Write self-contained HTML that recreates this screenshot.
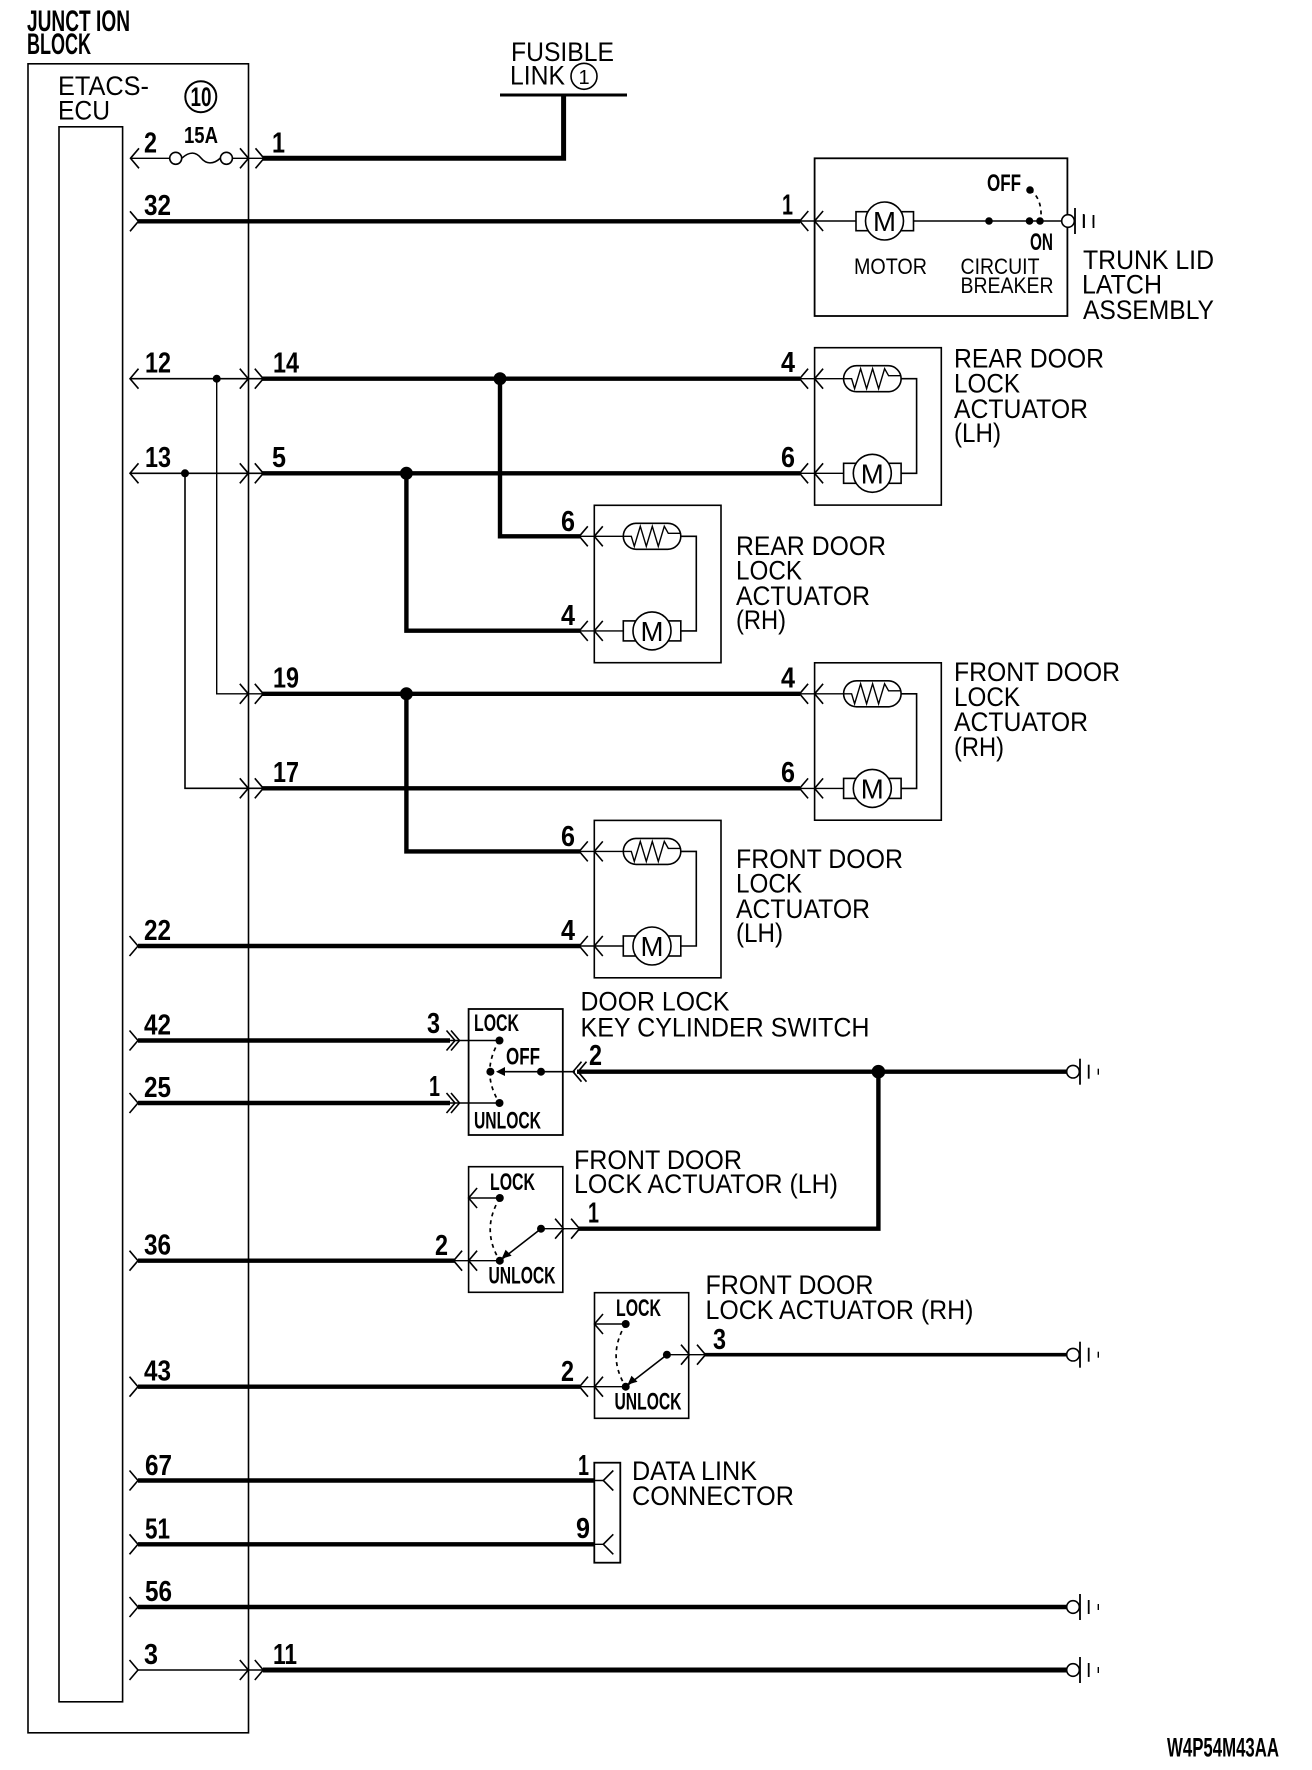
<!DOCTYPE html>
<html><head><meta charset="utf-8"><title>ETACS-ECU door lock wiring</title>
<style>
html,body{margin:0;padding:0;background:#fff}
svg{display:block}
text{font-family:"Liberation Sans",sans-serif;fill:#000;stroke:none}
.r{font-size:27px}
.m{font-size:22px}
.b{font-size:29px;font-weight:bold}
.s{font-size:24.5px;font-weight:bold}
.t{font-size:23px;font-weight:bold}
.k{fill:none;stroke:#000;stroke-width:4.4}
.n{fill:none;stroke:#000;stroke-width:1.4}
.c{fill:none;stroke:#000;stroke-width:1.6}
.d{fill:#000;stroke:none}
.w{fill:#fff;stroke:#000;stroke-width:1.6}
.x{fill:none;stroke:#000;stroke-width:1.7;stroke-dasharray:4 4}
</style></head><body>
<svg xmlns="http://www.w3.org/2000/svg" width="1312" height="1770" viewBox="0 0 1312 1770">
<defs>
<path id="cl" class="c" d="M8.5-10L0 0L8.5 10"/>
<path id="cr" class="c" d="M-8.5-10L0 0L-8.5 10"/>
<g id="act">
<rect class="c" x="0" y="-31" width="126.7" height="157.4"/>
<use href="#cl" x="-15" y="0"/><use href="#cl" x="0" y="0"/>
<use href="#cl" x="-15" y="94.6"/><use href="#cl" x="0" y="94.6"/>
<path class="n" d="M-15 0H29M-15 94.6H29"/>
<path class="c" d="M86 0H102V94.6H86"/>
<rect class="c" x="29" y="-13" width="57.5" height="26" rx="13"/>
<path class="n" d="M29 0H37L40 10L46-10L52 10L58-10L64 10L70-10L74-3H86"/>
<rect class="c" x="29" y="84.6" width="57.5" height="20"/>
<circle class="w" cx="57.7" cy="94.6" r="19"/>
</g>
<g id="gnd">
<circle class="w" cx="6" cy="0" r="6.3"/>
<path class="c" d="M13-13V13" style="stroke-width:1.8"/>
<path class="c" d="M21.7-7V7" style="stroke-width:1.8"/>
<path class="n" d="M31.3-3V3"/>
</g>
<g id="sw">
<rect class="c" x="0" y="-94" width="94.2" height="125.6"/>
<use href="#cl" x="0" y="-62.7"/>
<use href="#cl" x="0" y="0"/><use href="#cl" x="-15" y="0"/>
<use href="#cr" x="95" y="-32"/><use href="#cr" x="111" y="-32"/>
<path class="n" d="M0-62.7H31.2M-15 0H31.2M72.4-32H111"/>
<path class="x" d="M31.2-62.7Q12-31 31.2 0"/>
<path class="c" d="M72.4-32L31.2 0"/>
<path class="d" d="M33-2L37-11L43-5Z"/>
<circle class="d" cx="31.2" cy="-62.7" r="4"/>
<circle class="d" cx="31.2" cy="0" r="4"/>
<circle class="d" cx="72.4" cy="-32" r="4"/>
</g>
</defs>

<!-- ECU -->
<rect class="c" x="28" y="63.8" width="220.5" height="1669"/>
<rect class="c" x="59" y="126.8" width="63.6" height="1575"/>
<text class="b" x="27" y="31" style="font-size:30px" textLength="103" lengthAdjust="spacingAndGlyphs">JUNCT ION</text>
<text class="b" x="27" y="54" style="font-size:30px" textLength="64" lengthAdjust="spacingAndGlyphs">BLOCK</text>
<text class="r" x="58" y="95" textLength="91" lengthAdjust="spacingAndGlyphs">ETACS-</text>
<text class="r" x="58" y="119.5" textLength="52" lengthAdjust="spacingAndGlyphs">ECU</text>
<circle class="c" cx="200.8" cy="96.7" r="15.5" style="stroke-width:2"/>
<text class="b" x="190.5" y="106" style="font-size:27px" textLength="21" lengthAdjust="spacingAndGlyphs">10</text>
<text class="t" x="184" y="143" textLength="34" lengthAdjust="spacingAndGlyphs">15A</text>

<!-- Fusible link -->
<text class="r" x="511" y="61" textLength="103" lengthAdjust="spacingAndGlyphs">FUSIBLE</text>
<text class="r" x="510" y="84.5" textLength="55" lengthAdjust="spacingAndGlyphs">LINK</text>
<circle class="c" cx="584" cy="76.3" r="13"/>
<text x="584" y="84" text-anchor="middle" style="font-size:20px">1</text>
<path class="c" d="M500 95H627" style="stroke-width:3"/>
<path class="k" d="M263 158.3H563.6V95" style="stroke-width:5"/>

<!-- Row 2 / fuse -->
<use href="#cl" x="130.5" y="158.3"/><use href="#cr" x="248.5" y="158.3"/><use href="#cr" x="264" y="158.3"/>
<path class="n" d="M130.5 158.3H169.5M232.5 158.3H264"/>
<circle class="w" cx="175.7" cy="158.3" r="6"/><circle class="w" cx="226.4" cy="158.3" r="6"/>
<path class="c" d="M182 158C190 151 196 152 201 158C206 164 213 165 220.5 158"/>
<text class="b" x="144" y="152.7" textLength="13" lengthAdjust="spacingAndGlyphs">2</text>
<text class="b" x="272" y="152.7" textLength="13" lengthAdjust="spacingAndGlyphs">1</text>

<!-- Row 32 -->
<use href="#cr" x="138.5" y="221.3"/>
<path class="k" d="M138 221.3H800"/>
<text class="b" x="144" y="215" textLength="27" lengthAdjust="spacingAndGlyphs">32</text>
<text class="b" x="782" y="214.5" textLength="11" lengthAdjust="spacingAndGlyphs">1</text>

<!-- Trunk lid latch -->
<rect class="c" x="814.6" y="158.3" width="252.8" height="157.7" style="stroke-width:1.8"/>
<use href="#cl" x="799.8" y="221"/><use href="#cl" x="814.6" y="221"/>
<path class="n" d="M799.8 221H856M913 221H1062"/>
<rect class="c" x="856" y="211.7" width="57.5" height="19"/>
<circle class="w" cx="884.5" cy="221" r="19"/>
<text x="884.5" y="231" text-anchor="middle" style="font-size:28px" textLength="23" lengthAdjust="spacingAndGlyphs">M</text>
<circle class="d" cx="989" cy="221" r="3.8"/><circle class="d" cx="1029.5" cy="221" r="3.8"/><circle class="d" cx="1040" cy="221" r="3.8"/><circle class="d" cx="1030" cy="190" r="3.8"/>
<path class="x" d="M1030 190Q1042 198 1041 218"/>
<use href="#gnd" x="1062" y="221"/>
<path class="c" d="M1084 215V228M1093.5 215V228" style="stroke-width:1.8"/>
<text class="s" x="987" y="191" textLength="34" lengthAdjust="spacingAndGlyphs">OFF</text>
<text class="s" x="1030" y="250" textLength="23" lengthAdjust="spacingAndGlyphs">ON</text>
<text class="m" x="854" y="274" textLength="73" lengthAdjust="spacingAndGlyphs">MOTOR</text>
<text class="m" x="960.5" y="274" textLength="79" lengthAdjust="spacingAndGlyphs">CIRCUIT</text>
<text class="m" x="960.5" y="293" textLength="93" lengthAdjust="spacingAndGlyphs">BREAKER</text>
<text class="r" x="1083" y="269" textLength="131" lengthAdjust="spacingAndGlyphs">TRUNK LID</text>
<text class="r" x="1082" y="293.3" textLength="80" lengthAdjust="spacingAndGlyphs">LATCH</text>
<text class="r" x="1083" y="319" textLength="131" lengthAdjust="spacingAndGlyphs">ASSEMBLY</text>

<!-- Actuators -->
<use href="#act" x="814.6" y="378.7"/>
<use href="#act" x="594.3" y="536.3"/>
<use href="#act" x="814.6" y="693.8"/>
<use href="#act" x="594.3" y="851.4"/>
<text x="872.3" y="483.5" text-anchor="middle" style="font-size:28px" textLength="23" lengthAdjust="spacingAndGlyphs">M</text>
<text x="652" y="641" text-anchor="middle" style="font-size:28px" textLength="23" lengthAdjust="spacingAndGlyphs">M</text>
<text x="872.3" y="798.5" text-anchor="middle" style="font-size:28px" textLength="23" lengthAdjust="spacingAndGlyphs">M</text>
<text x="652" y="956" text-anchor="middle" style="font-size:28px" textLength="23" lengthAdjust="spacingAndGlyphs">M</text>

<text class="b" x="781" y="372" textLength="14" lengthAdjust="spacingAndGlyphs">4</text>
<text class="b" x="781" y="467" textLength="14" lengthAdjust="spacingAndGlyphs">6</text>
<text class="b" x="561" y="531" textLength="14" lengthAdjust="spacingAndGlyphs">6</text>
<text class="b" x="561" y="625" textLength="14" lengthAdjust="spacingAndGlyphs">4</text>
<text class="b" x="781" y="687.5" textLength="14" lengthAdjust="spacingAndGlyphs">4</text>
<text class="b" x="781" y="782" textLength="14" lengthAdjust="spacingAndGlyphs">6</text>
<text class="b" x="561" y="846" textLength="14" lengthAdjust="spacingAndGlyphs">6</text>
<text class="b" x="561" y="940" textLength="14" lengthAdjust="spacingAndGlyphs">4</text>

<text class="r" x="954" y="367.7" textLength="150" lengthAdjust="spacingAndGlyphs">REAR DOOR</text>
<text class="r" x="954" y="392.3" textLength="66" lengthAdjust="spacingAndGlyphs">LOCK</text>
<text class="r" x="954" y="418" textLength="134" lengthAdjust="spacingAndGlyphs">ACTUATOR</text>
<text class="r" x="954" y="442" textLength="47" lengthAdjust="spacingAndGlyphs">(LH)</text>

<text class="r" x="736" y="555" textLength="150" lengthAdjust="spacingAndGlyphs">REAR DOOR</text>
<text class="r" x="736" y="579.5" textLength="66" lengthAdjust="spacingAndGlyphs">LOCK</text>
<text class="r" x="736" y="605" textLength="134" lengthAdjust="spacingAndGlyphs">ACTUATOR</text>
<text class="r" x="736" y="629" textLength="50" lengthAdjust="spacingAndGlyphs">(RH)</text>

<text class="r" x="954" y="681" textLength="166" lengthAdjust="spacingAndGlyphs">FRONT DOOR</text>
<text class="r" x="954" y="706" textLength="66" lengthAdjust="spacingAndGlyphs">LOCK</text>
<text class="r" x="954" y="731" textLength="134" lengthAdjust="spacingAndGlyphs">ACTUATOR</text>
<text class="r" x="954" y="756" textLength="50" lengthAdjust="spacingAndGlyphs">(RH)</text>

<text class="r" x="736" y="868" textLength="167" lengthAdjust="spacingAndGlyphs">FRONT DOOR</text>
<text class="r" x="736" y="892.5" textLength="66" lengthAdjust="spacingAndGlyphs">LOCK</text>
<text class="r" x="736" y="918" textLength="134" lengthAdjust="spacingAndGlyphs">ACTUATOR</text>
<text class="r" x="736" y="942" textLength="47" lengthAdjust="spacingAndGlyphs">(LH)</text>

<!-- Rows 12/13 -->
<use href="#cl" x="130" y="378.7"/><use href="#cr" x="248.3" y="378.7"/><use href="#cr" x="263.3" y="378.7"/>
<use href="#cl" x="130" y="473.3"/><use href="#cr" x="248.3" y="473.3"/><use href="#cr" x="263.3" y="473.3"/>
<path class="c" d="M130 378.7H263M130 473.3H263"/>
<circle class="d" cx="216.7" cy="378.7" r="4"/><circle class="d" cx="185" cy="473.3" r="4"/>
<path class="n" d="M216.7 378.7V693.8H263"/>
<path class="c" d="M185 473.3V788.3H263"/>
<use href="#cr" x="248.3" y="693.8"/><use href="#cr" x="263.3" y="693.8"/>
<use href="#cr" x="248.3" y="788.3"/><use href="#cr" x="263.3" y="788.3"/>
<path class="k" d="M262 378.7H800M262 473.3H800M262 693.8H800M262 788.3H800"/>
<path class="k" d="M500 378.7V536.3H580M406.4 473.3V630.7H580M406.4 693.8V851.4H580"/>
<circle class="d" cx="500" cy="378.7" r="6.5"/><circle class="d" cx="406.4" cy="473.3" r="6.5"/><circle class="d" cx="406.4" cy="693.8" r="6.5"/>
<text class="b" x="145" y="372.7" textLength="26" lengthAdjust="spacingAndGlyphs">12</text>
<text class="b" x="145" y="467" textLength="26" lengthAdjust="spacingAndGlyphs">13</text>
<text class="b" x="273" y="372.7" textLength="26" lengthAdjust="spacingAndGlyphs">14</text>
<text class="b" x="272" y="467" textLength="14" lengthAdjust="spacingAndGlyphs">5</text>
<text class="b" x="273" y="687.7" textLength="26" lengthAdjust="spacingAndGlyphs">19</text>
<text class="b" x="273" y="782" textLength="26" lengthAdjust="spacingAndGlyphs">17</text>

<!-- Row 22 -->
<use href="#cr" x="138" y="946"/>
<path class="k" d="M138 946H580"/>
<text class="b" x="144" y="940" textLength="27" lengthAdjust="spacingAndGlyphs">22</text>

<!-- Key cylinder switch -->
<rect class="c" x="468.6" y="1009" width="94.2" height="126" style="stroke-width:1.8"/>
<use href="#cr" x="138" y="1040.5"/><use href="#cr" x="138" y="1103"/>
<path class="k" d="M138 1040.5H450M138 1103H450"/>
<use href="#cr" x="455" y="1040.5"/><use href="#cr" x="459.5" y="1040.5"/>
<use href="#cr" x="455" y="1103"/><use href="#cr" x="459.5" y="1103"/>
<path class="n" d="M448 1040.5H499"/><path class="c" d="M448 1103H499"/>
<circle class="d" cx="499.5" cy="1040.5" r="4"/><circle class="d" cx="499.5" cy="1103" r="4"/>
<path class="x" d="M499.5 1040.5Q480 1072 499.5 1103"/>
<circle class="d" cx="490.4" cy="1071.7" r="4"/><circle class="d" cx="541" cy="1071.7" r="4"/>
<path class="c" d="M498 1071.7H575"/>
<path class="d" d="M496 1071.7L505 1067V1076Z"/>
<use href="#cl" x="573" y="1071.7"/><use href="#cl" x="578" y="1071.7"/>
<path class="k" d="M577 1071.7H1067"/>
<use href="#gnd" x="1067" y="1071.7"/>
<path class="k" d="M878.4 1071.7V1228.7H578"/>
<circle class="d" cx="878.4" cy="1071.7" r="6.8"/>
<text class="s" x="474" y="1031" textLength="45" lengthAdjust="spacingAndGlyphs">LOCK</text>
<text class="s" x="506" y="1064.3" textLength="34" lengthAdjust="spacingAndGlyphs">OFF</text>
<text class="s" x="474" y="1128.7" textLength="67" lengthAdjust="spacingAndGlyphs">UNLOCK</text>
<text class="b" x="427" y="1033" textLength="13" lengthAdjust="spacingAndGlyphs">3</text>
<text class="b" x="429" y="1096" textLength="11" lengthAdjust="spacingAndGlyphs">1</text>
<text class="b" x="589" y="1065" textLength="13" lengthAdjust="spacingAndGlyphs">2</text>
<text class="b" x="144" y="1034.5" textLength="27" lengthAdjust="spacingAndGlyphs">42</text>
<text class="b" x="144" y="1097" textLength="27" lengthAdjust="spacingAndGlyphs">25</text>
<text class="r" x="580.5" y="1010.7" textLength="149" lengthAdjust="spacingAndGlyphs">DOOR LOCK</text>
<text class="r" x="580.5" y="1036.5" textLength="289" lengthAdjust="spacingAndGlyphs">KEY CYLINDER SWITCH</text>

<!-- Front door lock actuator LH switch -->
<use href="#cr" x="138" y="1260.7"/>
<path class="k" d="M138 1260.7H455"/>
<use href="#sw" x="468.6" y="1260.7"/>
<text class="s" x="490" y="1190" textLength="45" lengthAdjust="spacingAndGlyphs">LOCK</text>
<text class="s" x="488.5" y="1283.3" textLength="67" lengthAdjust="spacingAndGlyphs">UNLOCK</text>
<text class="b" x="144" y="1254.5" textLength="27" lengthAdjust="spacingAndGlyphs">36</text>
<text class="b" x="435" y="1255" textLength="13" lengthAdjust="spacingAndGlyphs">2</text>
<text class="b" x="588" y="1222.7" textLength="11" lengthAdjust="spacingAndGlyphs">1</text>
<text class="r" x="574" y="1169" textLength="168" lengthAdjust="spacingAndGlyphs">FRONT DOOR</text>
<text class="r" x="574" y="1193" textLength="264" lengthAdjust="spacingAndGlyphs">LOCK ACTUATOR (LH)</text>

<!-- Front door lock actuator RH switch -->
<use href="#cr" x="138" y="1386.7"/>
<path class="k" d="M138 1386.7H580"/>
<use href="#sw" x="594.5" y="1386.7"/>
<path class="k" d="M704 1354.7H1067" style="stroke-width:3.6"/>
<use href="#gnd" x="1067" y="1354.7"/>
<text class="s" x="616" y="1316" textLength="45" lengthAdjust="spacingAndGlyphs">LOCK</text>
<text class="s" x="614.5" y="1409.3" textLength="67" lengthAdjust="spacingAndGlyphs">UNLOCK</text>
<text class="b" x="144" y="1380.5" textLength="27" lengthAdjust="spacingAndGlyphs">43</text>
<text class="b" x="561" y="1381" textLength="13" lengthAdjust="spacingAndGlyphs">2</text>
<text class="b" x="713" y="1349" textLength="13" lengthAdjust="spacingAndGlyphs">3</text>
<text class="r" x="705.5" y="1294" textLength="168" lengthAdjust="spacingAndGlyphs">FRONT DOOR</text>
<text class="r" x="705.5" y="1319" textLength="268" lengthAdjust="spacingAndGlyphs">LOCK ACTUATOR (RH)</text>

<!-- Data link -->
<use href="#cr" x="138" y="1480.5"/><use href="#cr" x="138" y="1544.3"/>
<path class="k" d="M138 1480.5H594.3M138 1544.3H594.3"/>
<rect class="c" x="594.3" y="1462.7" width="26" height="100" style="stroke-width:1.8"/>
<path class="n" d="M594.3 1480.5H603.3M594.3 1544.3H603.3"/>
<path class="c" d="M613.3 1470.5L603.3 1480.5L613.3 1490.5M613.3 1534.3L603.3 1544.3L613.3 1554.3"/>
<text class="b" x="145" y="1475" textLength="27" lengthAdjust="spacingAndGlyphs">67</text>
<text class="b" x="145" y="1538.5" textLength="25" lengthAdjust="spacingAndGlyphs">51</text>
<text class="b" x="578" y="1475" textLength="11" lengthAdjust="spacingAndGlyphs">1</text>
<text class="b" x="576" y="1538" textLength="14" lengthAdjust="spacingAndGlyphs">9</text>
<text class="r" x="632" y="1480" textLength="125" lengthAdjust="spacingAndGlyphs">DATA LINK</text>
<text class="r" x="632" y="1505" textLength="162" lengthAdjust="spacingAndGlyphs">CONNECTOR</text>

<!-- Rows 56, 3 -->
<use href="#cr" x="138" y="1607"/>
<path class="k" d="M138 1607H1067"/>
<use href="#gnd" x="1067" y="1607"/>
<use href="#cr" x="138" y="1670"/><use href="#cr" x="248.3" y="1670"/><use href="#cr" x="263.3" y="1670"/>
<path class="n" d="M138 1670H263"/>
<path class="k" d="M263 1670H1067" style="stroke-width:5"/>
<use href="#gnd" x="1067" y="1670"/>
<text class="b" x="145" y="1601" textLength="27" lengthAdjust="spacingAndGlyphs">56</text>
<text class="b" x="144" y="1664" textLength="14" lengthAdjust="spacingAndGlyphs">3</text>
<text class="b" x="273" y="1664" textLength="24" lengthAdjust="spacingAndGlyphs">11</text>

<text class="s" x="1167" y="1756.7" style="font-size:27px" textLength="112" lengthAdjust="spacingAndGlyphs">W4P54M43AA</text>
</svg>
</body></html>
